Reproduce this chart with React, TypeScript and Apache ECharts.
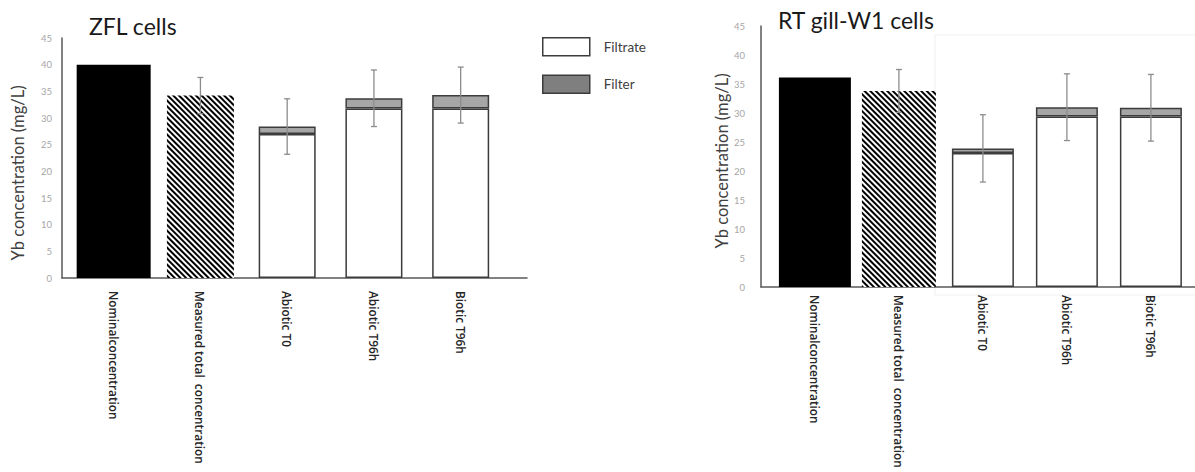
import React, { useEffect, useRef } from "react";
import * as echarts from "echarts";

// Treatment categories shared by both panels
const categories = [
  "Nominalconcentration",
  "Measured total  concentration",
  "Abiotic T0",
  "Abiotic T96h",
  "Biotic T96h",
];

// Y-axis tick range (mg/L)
const yMin = 0;
const yMax = 45;
const yStep = 5;

// ZFL cells
const zflNominal = [40.0, null, null, null, null];
const zflMeasured = [null, 34.2, null, null, null];
const zflMeasuredSd = [null, 3.4, null, null, null];
const zflFiltrate = [null, null, 27.0, 31.8, 31.8];
const zflFilter = [null, null, 1.4, 1.9, 2.5];
const zflFractionSd = [null, null, 5.2, 5.3, 5.25];

// RT gill-W1 cells
const rtNominal = [36.1, null, null, null, null];
const rtMeasured = [null, 33.8, null, null, null];
const rtMeasuredSd = [null, 3.7, null, null, null];
const rtFiltrate = [null, null, 23.1, 29.4, 29.4];
const rtFilter = [null, null, 0.8, 1.6, 1.5];
const rtFractionSd = [null, null, 5.8, 5.75, 5.75];

const FONT = "Lato, 'Open Sans', sans-serif";
const LABEL_FONT = "'Open Sans', Lato, sans-serif";
const AXIS_COLOR = "#595959";
const BORDER = "#3c3c3c";

type Panel = {
  title: string;
  titleLeft: number;
  titleTop: number;
  frame: { left: number; top: number; width: number; height: number };
  bars: { left: number; width: number };
  labelMargin: number;
  catMargin: number;
  widths: { nominal: number; measured: number; fraction: number };
  nominal: (number | null)[];
  measured: (number | null)[];
  measuredSd: (number | null)[];
  filtrate: (number | null)[];
  filter: (number | null)[];
  fractionSd: (number | null)[];
  yName: { x: number; y: number };
};

const panels: Panel[] = [
  {
    title: "ZFL cells",
    titleLeft: 89,
    titleTop: 14,
    frame: { left: 62, top: 38, width: 465, height: 240 },
    bars: { left: 70.3, width: 433.75 },
    labelMargin: 10,
    catMargin: 13,
    widths: { nominal: 74, measured: 67, fraction: 57 },
    nominal: zflNominal,
    measured: zflMeasured,
    measuredSd: zflMeasuredSd,
    filtrate: zflFiltrate,
    filter: zflFilter,
    fractionSd: zflFractionSd,
    yName: { x: 18, y: 173 },
  },
  {
    title: "RT gill-W1 cells",
    titleLeft: 778,
    titleTop: 8,
    frame: { left: 761, top: 26, width: 434, height: 261 },
    bars: { left: 772.9, width: 420 },
    labelMargin: 16,
    catMargin: 8,
    widths: { nominal: 72, measured: 74, fraction: 62 },
    nominal: rtNominal,
    measured: rtMeasured,
    measuredSd: rtMeasuredSd,
    filtrate: rtFiltrate,
    filter: rtFilter,
    fractionSd: rtFractionSd,
    yName: { x: 722, y: 161 },
  },
];

function errorData(p: Panel) {
  const out: number[][] = [];
  categories.forEach((_, i) => {
    if (p.measured[i] != null && p.measuredSd[i] != null) {
      const m = p.measured[i] as number;
      const s = p.measuredSd[i] as number;
      out.push([i, m - s, m + s]);
    }
    if (p.filtrate[i] != null && p.fractionSd[i] != null) {
      const m = (p.filtrate[i] as number) + (p.filter[i] as number);
      const s = p.fractionSd[i] as number;
      out.push([i, m - s, m + s]);
    }
  });
  return out;
}

function buildOption() {
  const grid: any[] = [];
  const xAxis: any[] = [];
  const yAxis: any[] = [];
  const series: any[] = [];

  panels.forEach((p, k) => {
    const gFrame = grid.length;
    grid.push({ ...p.frame, containLabel: false, outerBoundsMode: "none" });
    const gBars = grid.length;
    grid.push({
      left: p.bars.left,
      width: p.bars.width,
      top: p.frame.top,
      height: p.frame.height,
      containLabel: false,
      outerBoundsMode: "none",
    });

    // frame axes: draws the axis lines and y tick labels
    xAxis.push({
      type: "category",
      gridIndex: gFrame,
      data: [""],
      axisLine: { show: true, lineStyle: { color: AXIS_COLOR, width: 1.5 } },
      axisTick: { show: false },
      axisLabel: { show: false },
    });
    yAxis.push({
      type: "value",
      gridIndex: gFrame,
      min: yMin,
      max: yMax,
      interval: yStep,
      axisLine: { show: true, lineStyle: { color: AXIS_COLOR, width: 1.5 } },
      axisTick: { show: false },
      splitLine: { show: false },
      axisLabel: {
        color: "#a6a6a6",
        fontSize: 9.5,
        fontFamily: FONT,
        margin: p.labelMargin,
      },
    });

    // bar axes
    const yBars = yAxis.length;
    yAxis.push({
      type: "value",
      gridIndex: gBars,
      min: yMin,
      max: yMax,
      interval: yStep,
      show: false,
    });
    const xLabels = xAxis.length;
    xAxis.push({
      type: "category",
      gridIndex: gBars,
      data: categories,
      axisLine: { show: false },
      axisTick: { show: false },
      axisLabel: {
        rotate: -90,
        interval: 0,
        margin: p.catMargin,
        color: "#262626",
        fontSize: 11.8,
        fontWeight: 600,
        fontFamily: LABEL_FONT,
      },
    });
    const xMeasured = xAxis.length;
    xAxis.push({ type: "category", gridIndex: gBars, data: categories, show: false });
    const xFraction = xAxis.length;
    xAxis.push({ type: "category", gridIndex: gBars, data: categories, show: false });

    series.push({
      type: "bar",
      name: "Nominal" + k,
      xAxisIndex: xLabels,
      yAxisIndex: yBars,
      barWidth: p.widths.nominal,
      data: p.nominal,
      itemStyle: { color: "#000" },
    });
    series.push({
      type: "bar",
      name: "Measured" + k,
      xAxisIndex: xMeasured,
      yAxisIndex: yBars,
      barWidth: p.widths.measured,
      data: p.measured,
      itemStyle: {
        color: "#fff",
        decal: {
          symbol: "rect",
          symbolSize: 1,
          dashArrayX: [1, 0],
          dashArrayY: [1.8, 1.6],
          rotation: Math.PI / 4,
          color: "#000",
          backgroundColor: "#fff",
        },
      },
    });
    series.push({
      type: "bar",
      name: "Filtrate",
      stack: "fraction" + k,
      xAxisIndex: xFraction,
      yAxisIndex: yBars,
      barWidth: p.widths.fraction,
      data: p.filtrate,
      itemStyle: { color: "#fff", borderColor: BORDER, borderWidth: 1.5 },
    });
    series.push({
      type: "bar",
      name: "Filter",
      stack: "fraction" + k,
      xAxisIndex: xFraction,
      yAxisIndex: yBars,
      barWidth: p.widths.fraction,
      data: p.filter,
      itemStyle: { color: "#a6a6a6", borderColor: BORDER, borderWidth: 1.5 },
    });
    series.push({
      type: "custom",
      name: "sd" + k,
      xAxisIndex: xLabels,
      yAxisIndex: yBars,
      z: 5,
      data: errorData(p),
      encode: { x: 0, y: [1, 2] },
      renderItem: (params: any, api: any) => {
        const c = api.value(0);
        const lo = api.coord([c, api.value(1)]);
        const hi = api.coord([c, api.value(2)]);
        const hw = 3;
        const style = { stroke: "#8c8c8c", lineWidth: 1.3 };
        return {
          type: "group",
          children: [
            { type: "line", shape: { x1: lo[0], y1: lo[1], x2: hi[0], y2: hi[1] }, style },
            { type: "line", shape: { x1: hi[0] - hw, y1: hi[1], x2: hi[0] + hw, y2: hi[1] }, style },
            { type: "line", shape: { x1: lo[0] - hw, y1: lo[1], x2: lo[0] + hw, y2: lo[1] }, style },
          ],
        };
      },
    });
  });

  const graphic: any[] = [
    {
      type: "rect",
      z: -1,
      shape: { x: 935, y: 35, width: 262, height: 260 },
      style: { fill: "#fff", stroke: "#f0f0f0", lineWidth: 1 },
    },
    ...panels.map((p) => ({
      type: "text",
      x: p.yName.x,
      y: p.yName.y,
      rotation: Math.PI / 2,
      style: {
        text: "Yb concentration (mg/L)",
        fontSize: 16.5,
        fontFamily: FONT,
        fill: "#404040",
        textAlign: "center",
        textVerticalAlign: "middle",
      },
    })),
  ];

  return {
    animation: false,
    backgroundColor: "#fff",
    title: panels.map((p) => ({
      text: p.title,
      left: p.titleLeft,
      top: p.titleTop,
      padding: 0,
      textStyle: { fontSize: 23, fontWeight: "normal", color: "#1a1a1a", fontFamily: FONT },
    })),
    legend: {
      orient: "vertical",
      left: 537,
      top: 32,
      itemWidth: 47,
      itemHeight: 18,
      itemGap: 18,
      icon: "rect",
      selectedMode: false,
      textStyle: { fontSize: 13.5, color: "#404040", fontFamily: FONT, padding: [0, 0, 0, 9] },
      data: [
        { name: "Filtrate", itemStyle: { color: "#fff", borderColor: BORDER, borderWidth: 1.5 } },
        { name: "Filter", itemStyle: { color: "#7f7f7f", borderColor: BORDER, borderWidth: 1.5 } },
      ],
    },
    grid,
    xAxis,
    yAxis,
    series,
    graphic,
  };
}

export default function App() {
  const ref = useRef<HTMLDivElement>(null);
  useEffect(() => {
    if (!ref.current) return;
    const chart = echarts.init(ref.current, undefined, { renderer: "svg" });
    chart.setOption(buildOption() as any);
    return () => chart.dispose();
  }, []);
  return (
    <div
      ref={ref}
      style={{ position: "fixed", left: 0, top: 0, width: 1195, height: 472 }}
    />
  );
}
